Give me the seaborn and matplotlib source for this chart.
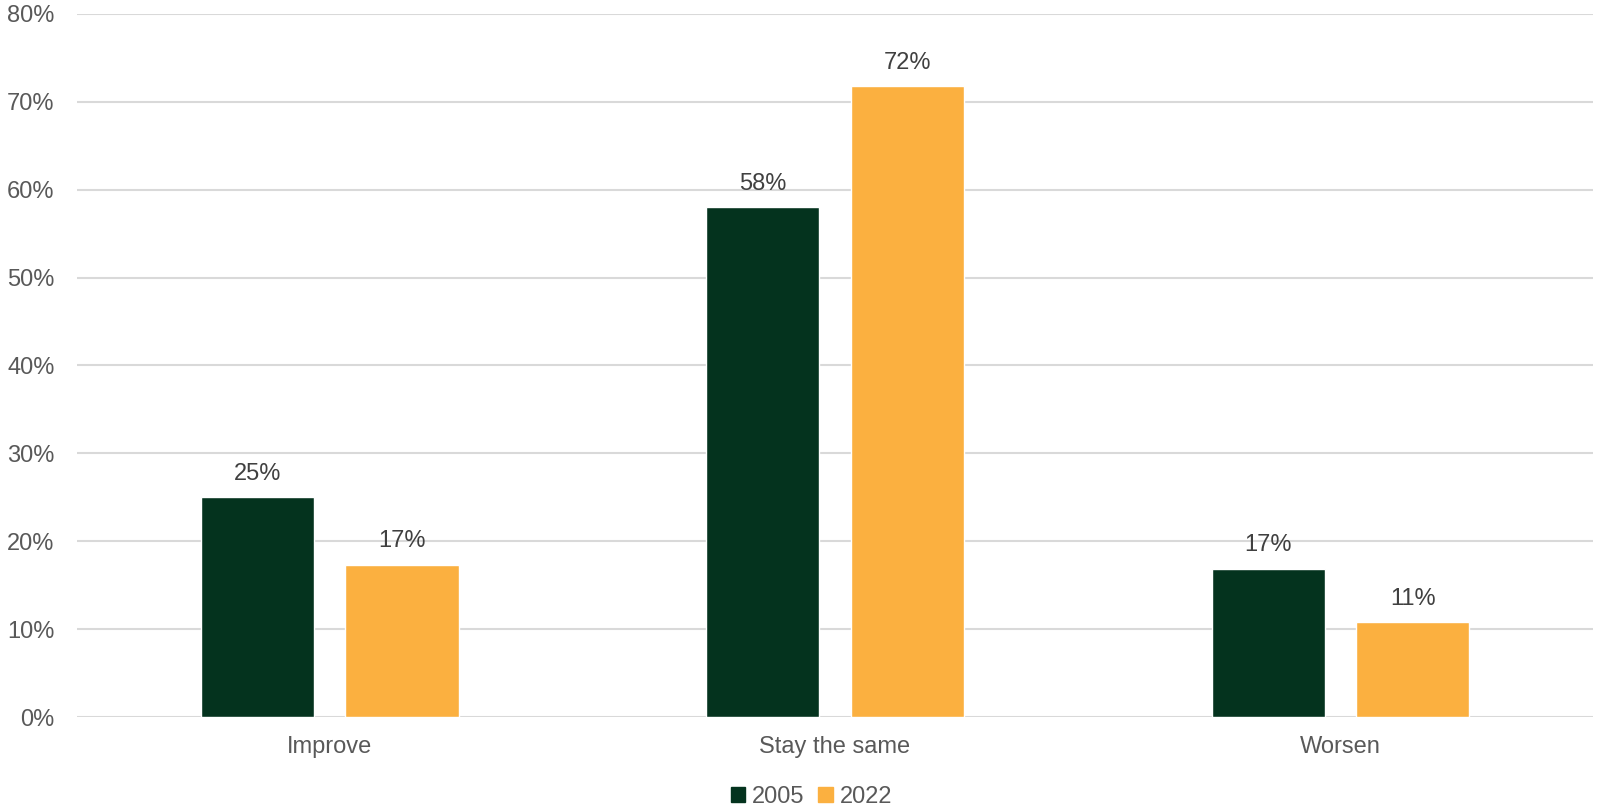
import matplotlib
matplotlib.use("Agg")
import matplotlib.pyplot as plt
import seaborn as sns
import pandas as pd
from matplotlib.ticker import PercentFormatter
from matplotlib.patches import Patch

# --- Data
categories = ['Improve', 'Stay the same', 'Worsen']
years = ['2005', '2022']
values_2005 = [25.0, 58.0, 16.9]
values_2022 = [17.3, 71.8, 10.8]
label_2005 = ['25%', '58%', '17%']
label_2022 = ['17%', '72%', '11%']

colors = {'2005': '#04331E', '2022': '#FBB040'}

df = pd.DataFrame({
    'Category': categories * 2,
    'Year': [years[0]] * 3 + [years[1]] * 3,
    'Value': values_2005 + values_2022,
})

# --- General Plot Settings
sns.set_style("white")
plt.rcParams['font.family'] = ['Liberation Sans', 'DejaVu Sans']

fig = plt.figure(figsize=(16.13, 8.08), dpi=100)
ax = fig.add_axes([0.0477, 0.1126, 0.94, 0.8701])

sns.barplot(data=df, x='Category', y='Value', hue='Year',
            order=categories, hue_order=years,
            palette=colors, width=0.572, gap=0.217,
            legend=False, ax=ax, saturation=1)

#  Value labels
for container, labels in zip(ax.containers, [label_2005, label_2022]):
    ax.bar_label(container, labels=labels, padding=9,
                 fontsize=17, color='#404040')

#  Axes
ax.set_ylim(0, 80)
ax.set_xlim(-0.5, 2.5)
ax.set_yticks(range(0, 81, 10))
ax.yaxis.set_major_formatter(PercentFormatter(decimals=0))
ax.grid(axis='y', color='#D9D9D9', linewidth=1.5)
ax.set_axisbelow(True)
for s in ax.spines.values():
    s.set_visible(False)
ax.tick_params(axis='both', length=0, labelsize=17, labelcolor='#595959')
ax.tick_params(axis='y', pad=16)
ax.tick_params(axis='x', pad=14)
ax.set_xlabel('')
ax.set_ylabel('')

#  Legend
handles = [Patch(color=colors[y], label=y) for y in years]
fig.legend(handles=handles, loc='center', bbox_to_anchor=(0.503, 0.0136),
           ncol=2, frameon=False, fontsize=17, labelcolor='#595959',
           handlelength=0.6, handleheight=0.6, handletextpad=0.3,
           columnspacing=0.6)

plt.savefig('out.png', dpi=100)
plt.close()
